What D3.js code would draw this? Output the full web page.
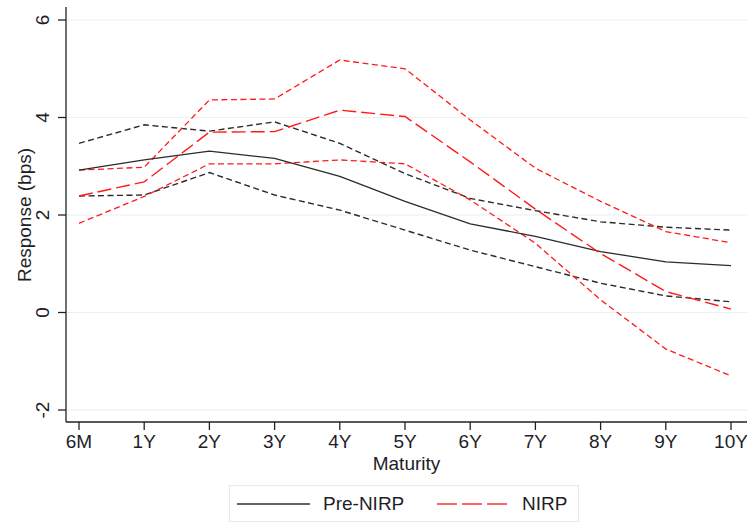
<!DOCTYPE html>
<html>
<head>
<meta charset="utf-8">
<script src="https://cdn.jsdelivr.net/npm/d3@7"></script>
<style>
  body { margin: 0; background: #fff; }
  text { font-family: "Liberation Sans", Arial, sans-serif; fill: #1e1e28; }
</style>
</head>
<body>
<script>
"use strict";

// maturities on the x axis
var maturities = ["6M", "1Y", "2Y", "3Y", "4Y", "5Y", "6Y", "7Y", "8Y", "9Y", "10Y"];
var y_ticks = [-2, 0, 2, 4, 6];

// Pre-NIRP: point estimate and band
var pre_mid = [2.92, 3.13, 3.31, 3.16, 2.79, 2.28, 1.82, 1.56, 1.25, 1.04, 0.96];
var pre_hi  = [3.47, 3.85, 3.72, 3.91, 3.47, 2.85, 2.34, 2.09, 1.86, 1.75, 1.69];
var pre_lo  = [2.39, 2.41, 2.87, 2.41, 2.10, 1.69, 1.28, 0.94, 0.60, 0.34, 0.22];

// NIRP: point estimate and band
var nirp_mid = [2.39, 2.68, 3.70, 3.71, 4.15, 4.02, 3.09, 2.12, 1.21, 0.43, 0.07];
var nirp_hi  = [2.92, 2.98, 4.36, 4.38, 5.18, 5.00, 3.95, 2.96, 2.28, 1.66, 1.43];
var nirp_lo  = [1.83, 2.38, 3.05, 3.05, 3.13, 3.05, 2.31, 1.42, 0.26, -0.75, -1.30];

var legend_labels = ["Pre-NIRP", "NIRP"];

function draw_chart() {
    var width = 747;
    var height = 523;
    var font_size = 19;
    var svg = d3.select("body")
        .append("svg")
        .attr("width", width)
        .attr("height", height);

    var x = d3.scalePoint()
        .domain(maturities)
        .range([79, 731]);
    var y = d3.scaleLinear()
        .domain([-2, 6])
        .range([410, 20]);

    var left = 66, right = 747, top = 7, bottom = 422;

    // grid
    svg.selectAll("line.grid")
        .data(y_ticks)
        .enter()
        .append("line")
        .attr("class", "grid")
        .attr("x1", left)
        .attr("x2", right)
        .attr("y1", function(d) { return y(d); })
        .attr("y2", function(d) { return y(d); })
        .attr("stroke", "#e8f0f0")
        .attr("stroke-width", 1.2);

    // series
    var line = d3.line()
        .x(function(d, i) { return x(maturities[i]); })
        .y(function(d) { return y(d); });

    var series = [
        {"values": pre_hi,   "color": "#2b2b2b", "dash": "6,3.5", "w": 1.4},
        {"values": pre_lo,   "color": "#2b2b2b", "dash": "6,3.5", "w": 1.4},
        {"values": nirp_hi,  "color": "#ff1a1a", "dash": "6,3.5", "w": 1.3},
        {"values": nirp_lo,  "color": "#ff1a1a", "dash": "6,3.5", "w": 1.3},
        {"values": pre_mid,  "color": "#2b2b2b", "dash": null,    "w": 1.3},
        {"values": nirp_mid, "color": "#ff1a1a", "dash": "14,5",  "w": 1.4}
    ];

    svg.selectAll("path.series")
        .data(series)
        .enter()
        .append("path")
        .attr("class", "series")
        .attr("d", function(d) { return line(d.values); })
        .attr("fill", "none")
        .attr("stroke", function(d) { return d.color; })
        .attr("stroke-width", function(d) { return d.w; })
        .attr("stroke-dasharray", function(d) { return d.dash; });

    // axes
    var axis_color = "#222";
    svg.append("line")
        .attr("x1", left).attr("x2", left)
        .attr("y1", top).attr("y2", bottom)
        .attr("stroke", axis_color).attr("stroke-width", 1.3);
    svg.append("line")
        .attr("x1", left).attr("x2", right)
        .attr("y1", bottom).attr("y2", bottom)
        .attr("stroke", axis_color).attr("stroke-width", 1.3);

    // y ticks (labels rotated, stata style)
    svg.selectAll("line.ytick")
        .data(y_ticks)
        .enter()
        .append("line")
        .attr("class", "ytick")
        .attr("x1", left - 8).attr("x2", left)
        .attr("y1", function(d) { return y(d); })
        .attr("y2", function(d) { return y(d); })
        .attr("stroke", axis_color).attr("stroke-width", 1.3);
    svg.selectAll("text.ylab")
        .data(y_ticks)
        .enter()
        .append("text")
        .attr("class", "ylab")
        .attr("text-anchor", "middle")
        .attr("font-size", font_size)
        .attr("transform", function(d) { return "translate(49," + y(d) + ")rotate(-90)"; })
        .text(function(d) { return d; });

    // x ticks
    svg.selectAll("line.xtick")
        .data(maturities)
        .enter()
        .append("line")
        .attr("class", "xtick")
        .attr("x1", function(d) { return x(d); })
        .attr("x2", function(d) { return x(d); })
        .attr("y1", bottom).attr("y2", bottom + 8)
        .attr("stroke", axis_color).attr("stroke-width", 1.3);
    svg.selectAll("text.xlab")
        .data(maturities)
        .enter()
        .append("text")
        .attr("class", "xlab")
        .attr("text-anchor", "middle")
        .attr("font-size", font_size)
        .attr("x", function(d) { return x(d); })
        .attr("y", 448)
        .text(function(d) { return d; });

    // axis titles
    svg.append("text")
        .attr("text-anchor", "middle")
        .attr("font-size", font_size)
        .attr("x", (left + right) / 2)
        .attr("y", 470)
        .text("Maturity");
    svg.append("text")
        .attr("text-anchor", "middle")
        .attr("font-size", font_size)
        .attr("transform", "translate(31,215)rotate(-90)")
        .text("Response (bps)");

    // legend
    var lg = svg.append("g");
    lg.append("rect")
        .attr("x", 229.5).attr("y", 485.5)
        .attr("width", 349).attr("height", 36)
        .attr("fill", "#fff")
        .attr("stroke", "#e4eded").attr("stroke-width", 1.2);
    var legend_items = [
        {"label": legend_labels[0], "color": "#333", "dash": null, "x": 237, "tx": 323},
        {"label": legend_labels[1], "color": "#ff3030", "dash": "20,5", "x": 437, "tx": 522}
    ];
    lg.selectAll("line")
        .data(legend_items)
        .enter()
        .append("line")
        .attr("x1", function(d) { return d.x; })
        .attr("x2", function(d) { return d.x + 73; })
        .attr("y1", 504).attr("y2", 504)
        .attr("stroke", function(d) { return d.color; })
        .attr("stroke-width", 1.6)
        .attr("stroke-dasharray", function(d) { return d.dash; });
    lg.selectAll("text")
        .data(legend_items)
        .enter()
        .append("text")
        .attr("font-size", font_size)
        .attr("x", function(d) { return d.tx; })
        .attr("y", 510)
        .text(function(d) { return d.label; });
}

// run
draw_chart();
</script>
</body>
</html>
